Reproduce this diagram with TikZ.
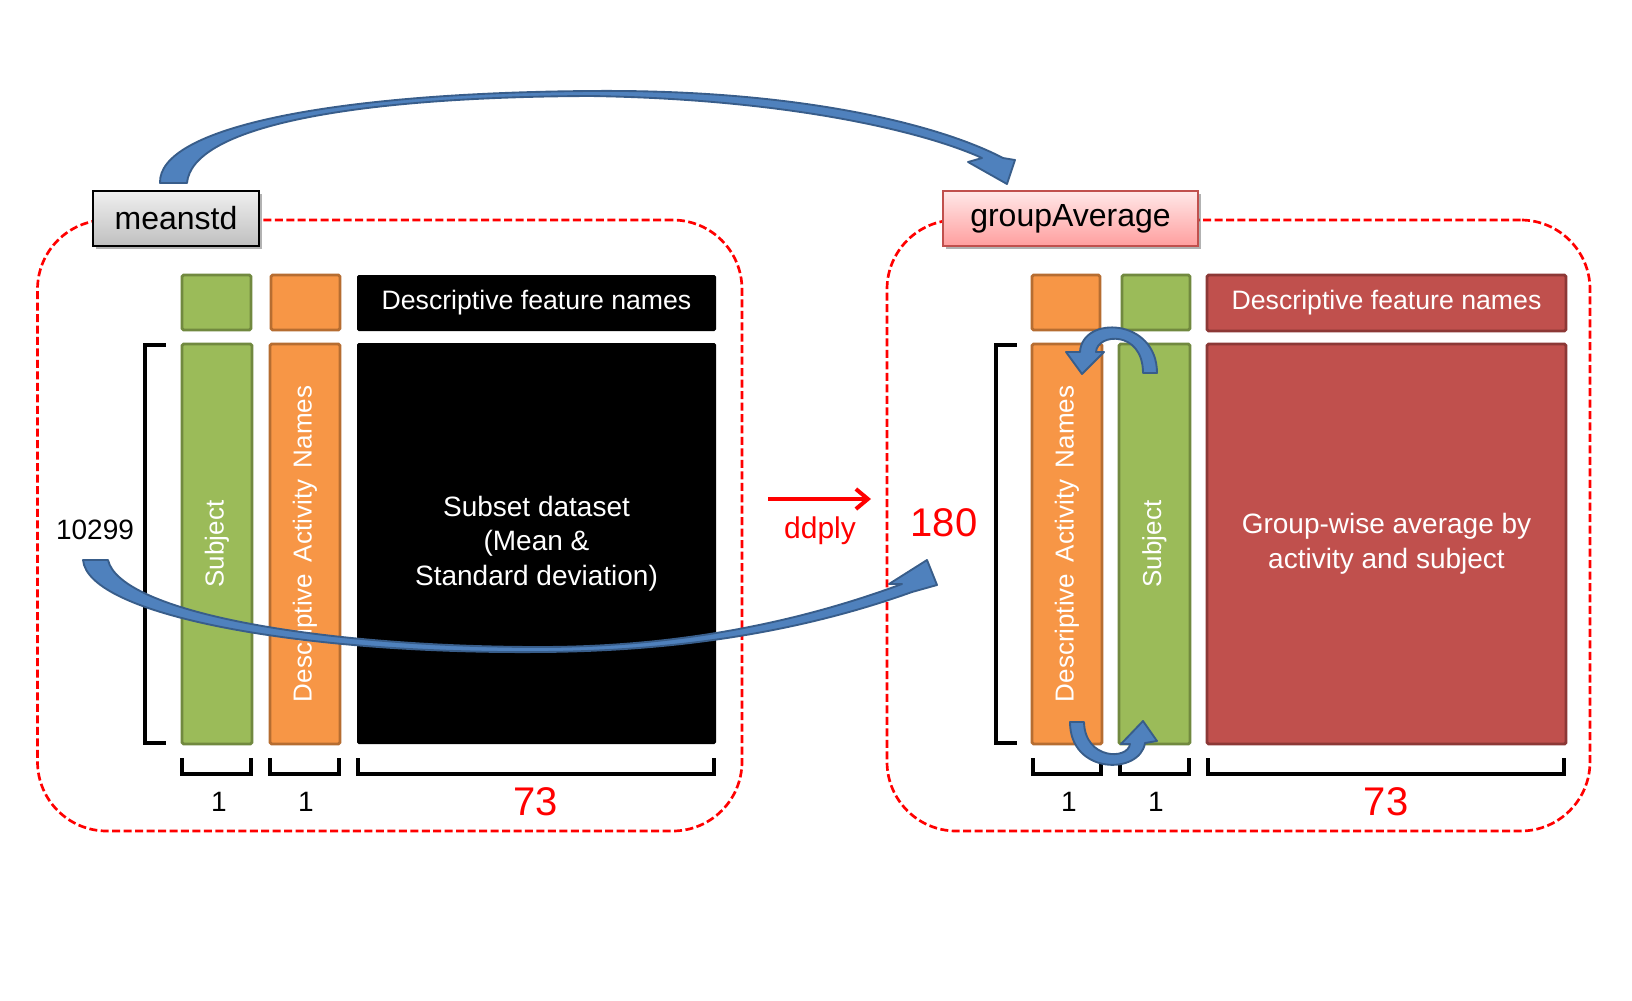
\documentclass[tikz,border=0pt]{standalone}
\usepackage{fontspec}
\setmainfont{Liberation Sans}
\usetikzlibrary{fit,arrows.meta,shadows}
\definecolor{grnF}{HTML}{9BBB59}
\definecolor{grnD}{HTML}{71893F}
\definecolor{orgF}{HTML}{F79646}
\definecolor{orgD}{HTML}{B66D31}
\definecolor{redF}{HTML}{C0504D}
\definecolor{redD}{HTML}{8C3836}
\definecolor{bluF}{HTML}{4F81BD}
\definecolor{bluD}{HTML}{385D8A}
\definecolor{pptred}{HTML}{FF0000}
\begin{document}
\begin{tikzpicture}[x=0.75pt,y=-0.75pt,
  box/.style={inner sep=0pt,outer sep=0pt,line width=2.2pt,rounded corners=1.2pt},
  gbar/.style={box,fill=grnF,draw=grnD},
  obar/.style={box,fill=orgF,draw=orgD},
  rbar/.style={box,fill=redF,draw=redD},
  kbar/.style={box,fill=black},
  frame/.style={inner sep=0pt,outer sep=0pt,draw=pptred,line width=2pt,dash pattern=on 6pt off 2.6pt,rounded corners=52pt},
  lab/.style={inner sep=0pt,outer sep=0pt,line width=1.6pt,
     general shadow={shadow xshift=2.2pt,shadow yshift=-2.6pt,fill=black,opacity=0.3}},
  labtext/.style={font=\fontsize{24}{28}\selectfont},
  hdr/.style={text=white,font=\fontsize{20}{24}\selectfont},
  body/.style={text=white,align=center,font=\fontsize{21}{26}\selectfont},
  vtext/.style={text=white,rotate=90,font=\fontsize{19.5}{23}\selectfont},
  num/.style={font=\fontsize{21}{25}\selectfont},
  big/.style={text=pptred,font=\fontsize{30}{34}\selectfont},
  brk/.style={line width=3pt,line cap=rect},
  blue/.style={fill=bluF,draw=bluD,line width=1.4pt,line join=round}]
\fill[white] (0,0) rectangle (1632,1000);
\useasboundingbox (0,0) rectangle (1632,1000);

% dashed frames
\node[frame,fit={(37.5,220)(742,831)}] (lframe) {};
\node[frame,fit={(887,220)(1590,831)}] (rframe) {};

% label boxes
\node[lab,draw=black,top color=black!6,bottom color=black!25,fit={(93,191)(259,246)}] (meanstd) {};
\node[labtext] (meanstdT) at (meanstd.center) {meanstd};
\node[lab,draw=redF,top color=red!9,bottom color=red!38,fit={(943,191)(1198,246)}] (group) {};
\node[labtext] (groupT) at (group.center) {groupAverage};

% left table
\node[gbar,fit={(182,275)(251,330)}] (lh1) {};
\node[obar,fit={(271,275)(340,330)}] (lh2) {};
\node[kbar,fit={(357,275)(716,331)}] (lh3) {};
\node[hdr] (lh3T) at (lh3.center) {Descriptive feature names};
\node[gbar,fit={(182,344)(252,744)}] (lb1) {};
\node[obar,fit={(270,344)(340,744)}] (lb2) {};
\node[kbar,fit={(357,343)(716,744)}] (lb3) {};
\node[body] (lb3T) at (lb3.center) {Subset dataset\\(Mean \&\\Standard deviation)};
\node[vtext] (lt1) at (lb1.center) {Subject};
\node[vtext] (lt2) at (lb2.center) {Descriptive\, Activity\, Names};

% right table
\node[obar,fit={(1032,275)(1100,330)}] (rh1) {};
\node[gbar,fit={(1122,275)(1190,330)}] (rh2) {};
\node[rbar,fit={(1207,275)(1566,331)}] (rh3) {};
\node[hdr] (rh3T) at (rh3.center) {Descriptive feature names};
\node[obar,fit={(1032,344)(1102,744)}] (rb1) {};
\node[gbar,fit={(1119,344)(1190,744)}] (rb2) {};
\node[rbar,fit={(1207,344)(1566,744)}] (rb3) {};
\node[body] (rb3T) at (rb3.center) {Group-wise average by\\activity and subject};
\node[vtext] (rt1) at (rb1.center) {Descriptive\, Activity\, Names};
\node[vtext] (rt2) at (rb2.center) {Subject};

% brackets left
\draw[brk] (164,345) -| (145,743) -- (164,743);
\draw[brk] (182,760) |- (251,774) -- (251,760);
\draw[brk] (270,760) |- (339,774) -- (339,760);
\draw[brk] (358,760) |- (714,774) -- (714,760);
% brackets right
\draw[brk] (1015,345) -| (996,743) -- (1015,743);
\draw[brk] (1033,760) |- (1101,774) -- (1101,760);
\draw[brk] (1120,760) |- (1189,774) -- (1189,760);
\draw[brk] (1208,760) |- (1564,774) -- (1564,760);

% numbers
\node[num] (n10299) at (95,530) {10299};
\node[num] (l1a) at (219,802) {1};
\node[num] (l1b) at (306,802) {1};
\node[big] (l73) at (536,802) {73};
\node[num] (r1a) at (1069,802) {1};
\node[num] (r1b) at (1156,802) {1};
\node[big] (r73) at (1386,802) {73};
\node[big] (n180) at (944,523) {180};

% ddply arrow
\coordinate (dd1) at (768,499);
\coordinate (dd2) at (871,499);
\draw[pptred,line width=3pt,-{Straight Barb[length=9pt,width=15pt,line width=3pt]}] (dd1) -- (dd2);
\node[text=pptred,font=\fontsize{22.5}{26}\selectfont] (ddply) at (820,531) {ddply};

% big top arrow: meanstd -> groupAverage
\filldraw[blue] (160,183) .. controls (158,128) and (330,93) .. (590,91)
  .. controls (800,89) and (940,125) .. (1003,158)
  -- (1015,160) -- (1007,184) -- (968,162) -- (982,158)
  .. controls (925,132) and (790,99) .. (590,96)
  .. controls (345,97) and (192,128) .. (187,183) -- cycle;

% big bottom arrow: 10299 -> 180
\filldraw[blue] (83,560) .. controls (88,615) and (300,654) .. (540,652)
  .. controls (700,651) and (820,625) .. (912,592)
  -- (937,585) -- (927,560) -- (889,584) -- (902,584)
  .. controls (810,618) and (690,647) .. (540,647)
  .. controls (320,647) and (120,612) .. (108,560) -- cycle;

% small swap arrows
\filldraw[blue] (1157,373) .. controls (1157,318) and (1082,315) .. (1080,352)
  -- (1066,352) -- (1082,374) -- (1104,352) -- (1096,352)
  .. controls (1097,333) and (1143,330) .. (1143,373) -- cycle;
\filldraw[blue] (1070,722) .. controls (1070,775) and (1140,775) .. (1145,743)
  -- (1157,741) -- (1143,721) -- (1121,744) -- (1130,744)
  .. controls (1128,760) and (1085,760) .. (1084,722) -- cycle;
\end{tikzpicture}
\end{document}
